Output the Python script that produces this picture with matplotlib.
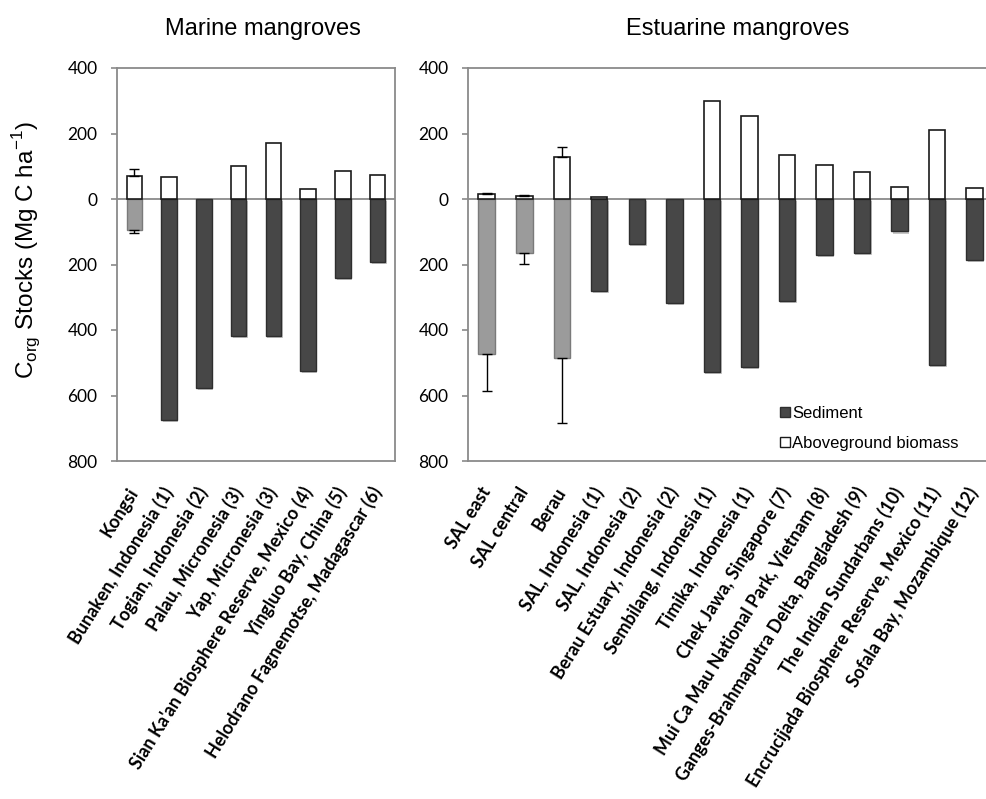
import matplotlib
matplotlib.use("Agg")
import matplotlib.pyplot as plt
import matplotlib.patheffects as pe
from matplotlib.patches import Patch
import numpy as np

# Marine mangroves
marine_sites = ["Kongsi", "Bunaken, Indonesia (1)", "Togian, Indonesia (2)",
                "Palau, Micronesia (3)", "Yap, Micronesia (3)",
                "Sian Ka'an Biosphere Reserve, Mexico (4)",
                "Yingluo Bay, China (5)", "Helodrano Fagnemotse, Madagascar (6)"]
marine_biomass = [70, 66, 0, 102, 170, 30, 87, 72]
marine_sediment = [96, 675, 578, 418, 418, 526, 241, 193]
marine_biomass_err = [23, 0, 0, 0, 0, 0, 0, 0]
marine_sediment_err = [8, 0, 0, 0, 0, 0, 0, 0]
marine_own = [True, False, False, False, False, False, False, False]

# Estuarine mangroves
estuarine_sites = ["SAL east", "SAL central", "Berau", "SAL, Indonesia (1)",
                   "SAL, Indonesia (2)", "Berau Estuary, Indonesia (2)",
                   "Sembilang, Indonesia (1)", "Timika, Indonesia (1)",
                   "Chek Jawa, Singapore (7)", "Mui Ca Mau National Park, Vietnam (8)",
                   "Ganges-Brahmaputra Delta, Bangladesh (9)",
                   "The Indian Sundarbans (10)",
                   "Encrucijada Biosphere Reserve, Mexico (11)",
                   "Sofala Bay, Mozambique (12)"]
estuarine_biomass = [15, 10, 129, 6, 0, 0, 300, 253, 134, 103, 82, 37, 212, 33]
estuarine_sediment = [474, 166, 487, 280, 136, 317, 527, 512, 310, 172, 166, 99, 507, 186]
estuarine_biomass_err = [4, 2, 31, 0, 0, 0, 0, 0, 0, 0, 0, 0, 0, 0]
estuarine_sediment_err = [112, 31, 196, 0, 0, 0, 0, 0, 0, 0, 0, 0, 0, 0]
estuarine_own = [True, True, True] + [False] * 11

y_ticks = [400, 200, 0, -200, -400, -600, -800]
y_ticklabels = ["400", "200", "0", "200", "400", "600", "800"]

DARK = "#474747"
LIGHT = "#9b9b9b"
FRAME = "#8a8a8a"

fig = plt.figure(figsize=(9.87, 7.99), dpi=100)
H = 799.0
W = 987.0
ax_top, ax_bot = 68, 461
ax1 = fig.add_axes([117 / W, 1 - ax_bot / H, (395 - 117) / W, (ax_bot - ax_top) / H])
ax2 = fig.add_axes([468 / W, 1 - ax_bot / H, (993 - 468) / W, (ax_bot - ax_top) / H])

shadow = [pe.SimplePatchShadow(offset=(1.2, -1.5), shadow_rgbFace="#000000", alpha=0.22), pe.Normal()]


def draw_panel(ax, sites, biomass, sediment, b_err, s_err, own, title, title_x):
    x = np.arange(len(sites))
    width = 0.44
    sed_colors = [LIGHT if o else DARK for o in own]
    sed_edges = ["#7a7a7a" if o else "#2e2e2e" for o in own]
    ax.axhline(0, color=FRAME, lw=1.3, zorder=1)
    sed = ax.bar(x, -np.asarray(sediment), width, color=sed_colors,
                 edgecolor=sed_edges, linewidth=1.0, zorder=2)
    for p, o in zip(sed, own):
        if not o:
            p.set_path_effects(shadow)
    bio_vals = np.asarray(biomass)
    bio = ax.bar(x, bio_vals, width, color="white", edgecolor="#1a1a1a",
                 linewidth=1.2, zorder=2)
    for i, b in enumerate(bio_vals):
        if b == 0:
            bio[i].set_visible(False)
    # one-sided error bars, pointing away from zero
    for i in range(len(sites)):
        if b_err[i] > 0:
            ax.errorbar(x[i], biomass[i], yerr=[[0], [b_err[i]]], fmt="none",
                        ecolor="black", elinewidth=1.0, capsize=3.5, capthick=1.0, zorder=3)
        if s_err[i] > 0:
            ax.errorbar(x[i], -sediment[i], yerr=[[s_err[i]], [0]], fmt="none",
                        ecolor="black", elinewidth=1.0, capsize=3.5, capthick=1.0, zorder=3)
    ax.set_xlim(-0.5, len(sites) - 0.5)
    ax.set_ylim(-800, 400)
    ax.set_yticks(y_ticks)
    ax.set_yticklabels(y_ticklabels, fontfamily="Lato", fontsize=12.5)
    ax.set_xticks(x)
    ax.set_xticklabels(sites, rotation=58, ha="right", va="center",
                       rotation_mode="anchor", fontfamily="Lato",
                       fontweight="bold", fontsize=12.9)
    ax.tick_params(axis="x", length=0, pad=20)
    ax.tick_params(axis="y", length=4, width=1.2, color=FRAME, pad=10)
    for s in ax.spines.values():
        s.set_color(FRAME)
        s.set_linewidth(1.3)
    ax.set_title(title, fontfamily="Liberation Sans", fontsize=17, pad=24, x=title_x)


draw_panel(ax1, marine_sites, marine_biomass, marine_sediment,
           marine_biomass_err, marine_sediment_err, marine_own,
           "Marine mangroves", 0.525)
draw_panel(ax2, estuarine_sites, estuarine_biomass, estuarine_sediment,
           estuarine_biomass_err, estuarine_sediment_err, estuarine_own,
           "Estuarine mangroves", 0.513)

ax1.set_ylabel(r"C$_{\mathregular{org}}$ Stocks (Mg C ha$^{\mathregular{-1}}$)",
               fontfamily="Liberation Sans", fontsize=17.5)
ax1.yaxis.set_label_coords(-0.265, 0.537)

handles = [Patch(facecolor=DARK, edgecolor="#2e2e2e", label="Sediment"),
           Patch(facecolor="white", edgecolor="#1a1a1a", label="Aboveground biomass")]
ax2.legend(handles=handles, loc="lower left", bbox_to_anchor=(0.579, 0.005),
           frameon=False, handlelength=0.6, handleheight=0.6, handletextpad=0.1,
           labelspacing=0.9, borderpad=0, prop={"family": "Liberation Sans", "size": 12})

fig.savefig("out.png", dpi=100)
